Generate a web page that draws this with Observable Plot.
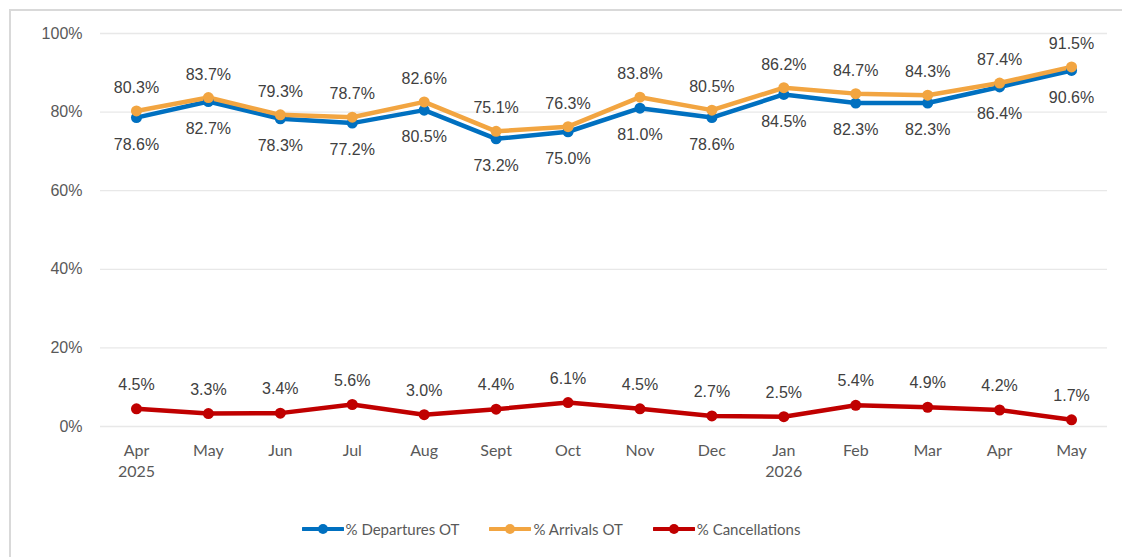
<!DOCTYPE html>
<html><head><meta charset="utf-8">
<script src="https://cdn.jsdelivr.net/npm/d3@7"></script>
<script src="https://cdn.jsdelivr.net/npm/@observablehq/plot@0.6"></script>
<style>
body{margin:0;background:#fff;width:1122px;height:557px;overflow:hidden;position:relative;font-family:"Liberation Sans",Arial,sans-serif;}
#frame{position:absolute;left:9px;top:9px;width:1120px;height:560px;border:2px solid #d9d9d9;box-sizing:border-box;}
#chart{position:absolute;left:0;top:0;}
#legend{position:absolute;left:0;top:520px;width:1102px;display:flex;justify-content:center;gap:30px;font-family:"Lato","Noto Sans",sans-serif;font-size:15px;color:#595959;}
.item{display:flex;align-items:center;}
.item svg{margin-right:2px;}
</style></head>
<body>
<div id="frame"></div>
<div id="chart"></div>
<div id="legend"></div>
<script>
const months = ["Apr\n2025","May","Jun","Jul","Aug","Sept","Oct","Nov","Dec","Jan\n2026","Feb","Mar","Apr","May"];
const departures = [78.6,82.7,78.3,77.2,80.5,73.2,75.0,81.0,78.6,84.5,82.3,82.3,86.4,90.6];
const arrivals = [80.3,83.7,79.3,78.7,82.6,75.1,76.3,83.8,80.5,86.2,84.7,84.3,87.4,91.5];
const cancellations = [4.5,3.3,3.4,5.6,3.0,4.4,6.1,4.5,2.7,2.5,5.4,4.9,4.2,1.7];
const seriesNames = ["% Departures OT","% Arrivals OT","% Cancellations"];
const seriesColors = ["#0070C0","#F2A541","#C00000"];
const yTicks = [0,20,40,60,80,100];

const idx = months.map((_, i) => i);
const mk = (vals, name) => vals.map((v, i) => ({i, v, name}));
const dep = mk(departures, seriesNames[0]);
const arr = mk(arrivals, seriesNames[1]);
const can = mk(cancellations, seriesNames[2]);
const all = [...dep, ...arr, ...can];
const fmt = v => v.toFixed(1) + "%";

const chart = Plot.plot({
  width: 1122, height: 500,
  marginLeft: 100, marginRight: 15, marginTop: 33, marginBottom: 74,
  style: {fontFamily: "'Liberation Sans', Arial, sans-serif", background: "transparent"},
  x: {type: "point", domain: idx, padding: 0.5, round: false, axis: null},
  y: {domain: [0, 100], axis: null},
  color: {domain: seriesNames, range: seriesColors},
  marks: [
    Plot.ruleY(yTicks, {y: d => d, stroke: "#e8e8e8", strokeWidth: 1.3}),
    Plot.axisY(yTicks, {tickSize: 0, tickPadding: 18, tickFormat: d => d + "%", fontSize: 16, fill: "#595959", label: null}),
    Plot.axisX(idx, {tickSize: 0, tickPadding: 14, tickFormat: i => months[i], fontSize: 16, fill: "#595959", label: null, lineHeight: 1.35, textAnchor: "middle", fontFamily: "Lato, 'Noto Sans', sans-serif"}),
    Plot.line(all, {x: "i", y: "v", z: "name", stroke: "name", strokeWidth: 4.5, curve: "linear"}),
    Plot.dot(all, {x: "i", y: "v", fill: "name", r: 5.5}),
    Plot.text(arr, {x: "i", y: "v", text: d => fmt(d.v), dy: -23, fontSize: 16, fill: "#404040"}),
    Plot.text(dep, {x: "i", y: "v", text: d => fmt(d.v), dy: 27, fontSize: 16, fill: "#404040"}),
    Plot.text(can, {x: "i", y: "v", text: d => fmt(d.v), dy: -24, fontSize: 16, fill: "#404040"})
  ]
});
document.getElementById("chart").appendChild(chart);

const legend = document.getElementById("legend");
seriesNames.forEach((n, k) => {
  const d = document.createElement("div");
  d.className = "item";
  d.innerHTML = `<svg width="42" height="12"><line x1="1" y1="6" x2="41" y2="6" stroke="${seriesColors[k]}" stroke-width="4" stroke-linecap="round"/><circle cx="21" cy="6" r="5" fill="${seriesColors[k]}"/></svg><span>${n}</span>`;
  legend.appendChild(d);
});
</script>
</body></html>
